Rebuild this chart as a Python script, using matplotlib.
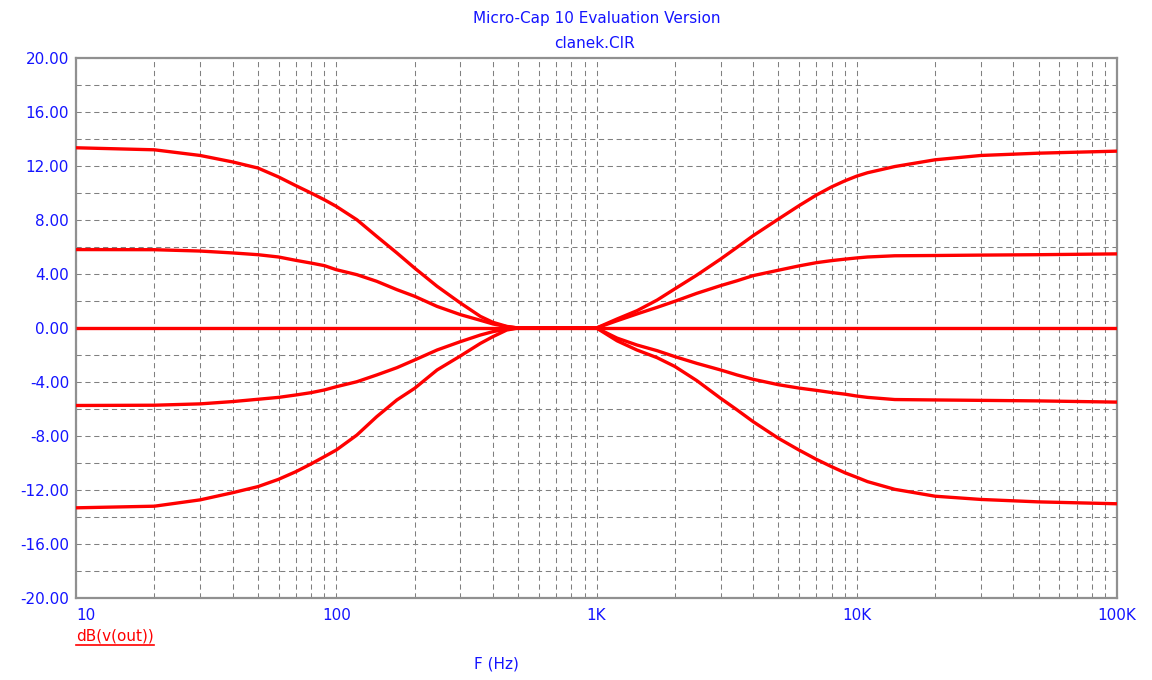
import numpy as np
import matplotlib.pyplot as plt
from matplotlib.lines import Line2D

# bass side (frequency in Hz, gain in dB)
f_low = [10, 20, 30, 40, 50, 60, 70, 80, 90, 100, 120, 143, 171, 200, 244, 300, 358, 400, 452, 500, 1000]
bass_p13 = [13.35, 13.2, 12.78, 12.3, 11.85, 11.19, 10.54, 10.0, 9.5, 9.01, 8.02, 6.79, 5.56, 4.44, 3.09, 1.85, 0.86, 0.42, 0.12, 0.0, 0.0]
bass_p6 = [5.81, 5.8, 5.7, 5.56, 5.43, 5.26, 5.01, 4.81, 4.62, 4.32, 3.95, 3.46, 2.84, 2.35, 1.6, 0.99, 0.57, 0.3, 0.1, 0.0, 0.0]
bass_0 = [0.0] * 21
bass_m6 = [-5.74, -5.72, -5.62, -5.45, -5.28, -5.14, -4.96, -4.79, -4.59, -4.35, -3.98, -3.48, -2.94, -2.37, -1.63, -1.01, -0.52, -0.27, -0.08, 0.0, 0.0]
bass_m13 = [-13.32, -13.2, -12.73, -12.2, -11.75, -11.21, -10.64, -10.07, -9.53, -9.04, -7.93, -6.57, -5.33, -4.47, -3.11, -2.07, -1.14, -0.64, -0.15, 0.0, 0.0]

# treble side
f_high = [1000, 1200, 1430, 1710, 2000, 2430, 3000, 3470, 4000, 5000, 6000, 7000, 8000, 9000, 10000, 11000, 14000, 20000, 30000, 50000, 100000]
treb_p13 = [0.0, 0.67, 1.28, 2.07, 2.9, 3.92, 5.11, 5.98, 6.84, 8.07, 9.06, 9.85, 10.45, 10.9, 11.25, 11.5, 11.96, 12.46, 12.78, 12.95, 13.1]
treb_p6 = [0.0, 0.54, 1.04, 1.53, 1.98, 2.57, 3.14, 3.5, 3.88, 4.28, 4.6, 4.84, 4.99, 5.1, 5.19, 5.26, 5.35, 5.37, 5.4, 5.43, 5.49]
treb_0 = [0.0] * 21
treb_m6 = [0.0, -0.75, -1.26, -1.68, -2.12, -2.62, -3.11, -3.48, -3.8, -4.2, -4.45, -4.62, -4.78, -4.9, -5.04, -5.14, -5.3, -5.33, -5.36, -5.4, -5.49]
treb_m13 = [0.0, -0.95, -1.63, -2.2, -2.85, -3.9, -5.21, -6.07, -6.94, -8.17, -9.04, -9.73, -10.27, -10.72, -11.06, -11.38, -11.95, -12.46, -12.7, -12.88, -13.02]

bass_curves = [bass_p13, bass_p6, bass_0, bass_m6, bass_m13]
treb_curves = [treb_p13, treb_p6, treb_0, treb_m6, treb_m13]

y_ticks = [20, 16, 12, 8, 4, 0, -4, -8, -12, -16, -20]
x_ticks = [10, 100, 1000, 10000, 100000]
x_labels = ["10", "100", "1K", "10K", "100K"]

BLUE = "#1414ff"
RED = "#ff0000"
GRID = "#808080"
FONT = "DejaVu Sans"
FS = 11

fig = plt.figure(figsize=(11.52, 6.8), dpi=100)
ax = fig.add_axes([76 / 1152, 82 / 680, 1041 / 1152, 540 / 680])

for lo, hi in zip(bass_curves, treb_curves):
    ax.plot(f_low + f_high[1:], lo + hi[1:], color=RED, lw=2.4,
            solid_joinstyle="round", solid_capstyle="butt", zorder=3)

ax.set_xscale("log")
ax.set_xlim(10, 100000)
ax.set_ylim(-20, 20)

ax.set_xticks(x_ticks)
ax.set_xticklabels(x_labels)
minor_x = [m * d for d in [10, 100, 1000, 10000] for m in range(2, 10)]
ax.set_xticks(minor_x, minor=True)
ax.set_yticks(y_ticks)
ax.set_yticklabels(["%.2f" % v for v in y_ticks])
ax.set_yticks(np.arange(-18, 20, 4), minor=True)

ax.grid(True, which="both", color=GRID, lw=0.75, linestyle=(0, (5, 3.5)))
ax.tick_params(which="both", length=0)
ax.tick_params(axis="x", pad=7, labelcolor=BLUE, labelsize=FS)
ax.tick_params(axis="y", pad=5, labelcolor=BLUE, labelsize=FS)
for lab in ax.get_xticklabels() + ax.get_yticklabels():
    lab.set_family(FONT)
ax.get_xticklabels()[0].set_horizontalalignment("left")

for sp in ax.spines.values():
    sp.set_color("#909090")
    sp.set_linewidth(1.6)

fig.text(0.518, 1 - 18 / 680, "Micro-Cap 10 Evaluation Version", color=BLUE,
         fontsize=FS, family=FONT, ha="center", va="center")
fig.text(0.516, 1 - 44 / 680, "clanek.CIR", color=BLUE,
         fontsize=FS, family=FONT, ha="center", va="center")
fig.text(496 / 1152, 1 - 664 / 680, "F (Hz)", color=BLUE,
         fontsize=FS, family=FONT, ha="center", va="center")
lbl = fig.text(76 / 1152, 1 - 636 / 680, "dB(v(out))", color=RED,
               fontsize=FS, family=FONT, ha="left", va="center")

# underline the trace label
fig.canvas.draw()
bb = lbl.get_window_extent().transformed(fig.transFigure.inverted())
fig.add_artist(Line2D([bb.x0, bb.x1], [bb.y0 - 0.002, bb.y0 - 0.002],
                      transform=fig.transFigure, color=RED, lw=1.2))

fig.savefig("out.png", dpi=100, facecolor="white")
